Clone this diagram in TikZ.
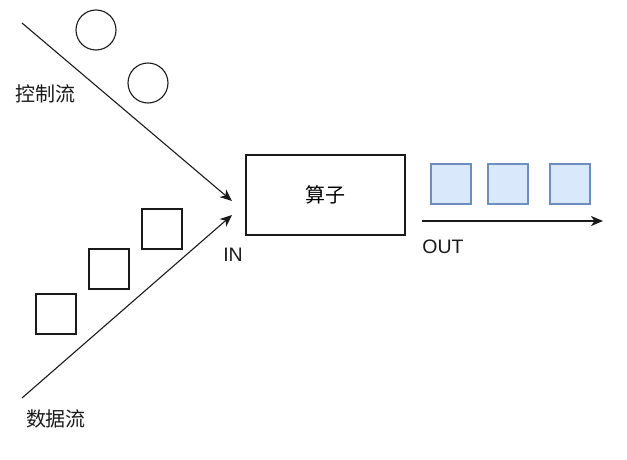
\documentclass[tikz,border=0pt]{standalone}
\usepackage{fontspec}
\setmainfont{Liberation Sans}
\newfontfamily\cjk{Noto Sans CJK SC}
\usetikzlibrary{arrows.meta}
\definecolor{bluefill}{HTML}{DAE8FC}
\definecolor{bluedraw}{HTML}{6C8EBF}
\definecolor{ink}{HTML}{1A1A1A}
\begin{document}
\begin{tikzpicture}[x=1pt,y=-1pt,
  line width=1pt, draw=ink,
  flow/.style={-{Stealth[length=12pt,width=10pt,inset=3.5pt]}, line width=1.1pt, draw=ink},
  token/.style={draw=ink, line width=1.1pt},
  outtok/.style={draw=bluedraw, fill=bluefill, line width=1.1pt},
  lbl/.style={font=\fontsize{19.5}{22}\selectfont, text=ink, inner sep=0pt},
  cjklbl/.style={font=\cjk\fontsize{20}{22}\selectfont, text=ink, inner sep=0pt}]
\useasboundingbox (0,0) rectangle (627,460);
% control flow
\coordinate (c0) at (22,23);
\coordinate (c1) at (232,201);
\draw[flow] (c0) -- (c1);
\node[token, circle, minimum size=40pt, inner sep=0pt] (k1) at (96,30) {};
\node[token, circle, minimum size=40pt, inner sep=0pt] (k2) at (148,83) {};
\node[cjklbl] (ctl) at (46,94) {控制流};
% data flow
\coordinate (d0) at (22,398);
\coordinate (d1) at (232,215);
\draw[flow] (d0) -- (d1);
\node[token, minimum size=40pt, inner sep=0pt] (s1) at (56,314) {};
\node[token, minimum size=40pt, inner sep=0pt] (s2) at (109,269) {};
\node[token, minimum size=40pt, inner sep=0pt] (s3) at (162,229) {};
\node[cjklbl] (dat) at (56,419) {数据流};
\node[lbl] (in) at (233,255) {IN};
% operator
\node[draw=ink, line width=1.1pt, minimum width=159pt, minimum height=80pt, inner sep=0pt,
  font=\cjk\fontsize{20}{22}\selectfont] (op) at (325.5,195) {算子};
% output
\node[outtok, minimum size=40pt, inner sep=0pt] (o1) at (451,184) {};
\node[outtok, minimum size=40pt, inner sep=0pt] (o2) at (508,184) {};
\node[outtok, minimum size=40pt, inner sep=0pt] (o3) at (570,184) {};
\coordinate (e0) at (422,221);
\coordinate (e1) at (603,221);
\draw[flow] (e0) -- (e1);
\node[lbl] (out) at (443,247) {OUT};
\end{tikzpicture}
\end{document}
